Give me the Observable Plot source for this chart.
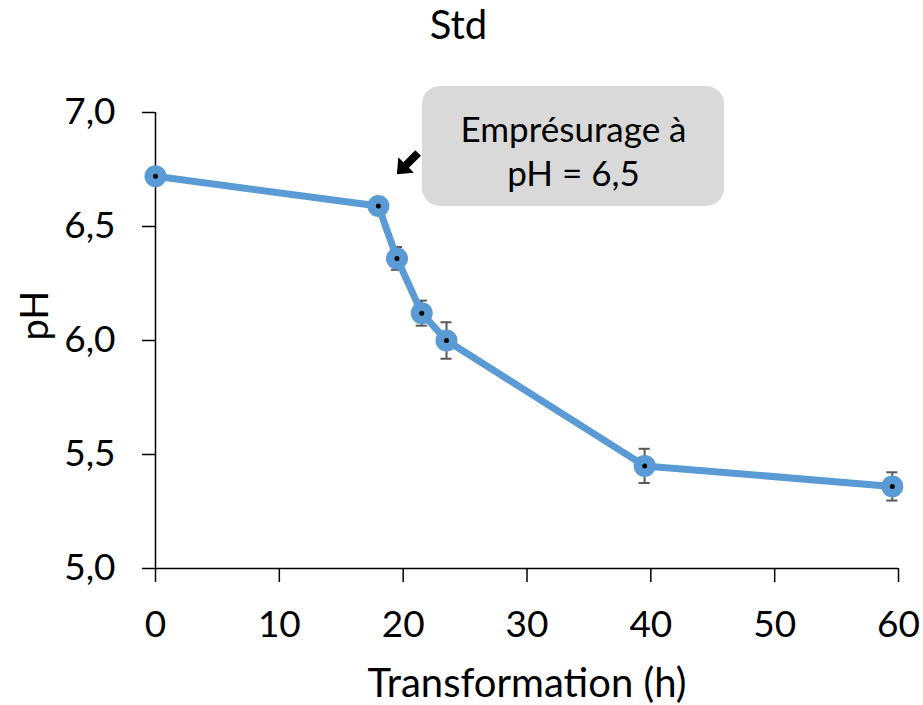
<!DOCTYPE html>
<html>
<head>
<meta charset="utf-8">
<script src="https://cdn.jsdelivr.net/npm/d3@7"></script>
<script src="https://cdn.jsdelivr.net/npm/@observablehq/plot@0.6"></script>
<style>
  html, body { margin: 0; padding: 0; background: white; }
</style>
</head>
<body>
<div id="chart"></div>
<script>
// Data
const hours = [0, 18, 19.5, 21.5, 23.5, 39.5, 59.5];
const pH = [6.72, 6.59, 6.36, 6.12, 6.0, 5.45, 5.36];
const err = [0, 0, 0.05, 0.055, 0.08, 0.075, 0.062];
const xTicks = [0, 10, 20, 30, 40, 50, 60];
const yTicks = [5.0, 5.5, 6.0, 6.5, 7.0];
const titleText = "Std";
const xLabel = "Transformation (h)";
const yLabel = "pH";
const noteLines = ["Empr\u00e9surage \u00e0", "pH = 6,5"];
// annotation anchors (data units)
const noteBox = [{x1: 21.56, x2: 45.95, y1: 6.588, y2: 7.114}];
const noteText = [{x: 33.76, y: 6.836, text: noteLines.join("\n")}];
const noteArrow = [{x: 20.35, y: 6.776}];

const rows = hours.map((h, i) => ({h, v: pH[i], e: err[i]}));
const errRows = rows.filter(d => d.e > 0);
const fmt = v => d3.format(".1f")(v).replace(".", ",");

const blue = "#5b9bd5";
const capHalf = 0.45;

// custom block-arrow symbol pointing down-left
const arrowSymbol = {
  draw(ctx, size) {
    const s = Math.SQRT1_2;
    const u = [-s, s];   // direction (down-left)
    const v = [s, s];    // perpendicular
    const P = (a, b) => [a * u[0] + b * v[0], a * u[1] + b * v[1]];
    const pts = [P(-15, 4), P(2, 4), P(2, 11), P(15, 0), P(2, -11), P(2, -4), P(-15, -4)];
    ctx.moveTo(...pts[0]);
    for (let i = 1; i < pts.length; i++) ctx.lineTo(...pts[i]);
    ctx.closePath();
  }
};

const chart = Plot.plot({
  width: 923,
  height: 705,
  marginTop: 112,
  marginBottom: 137,
  marginLeft: 155,
  marginRight: 25,
  style: {fontFamily: "Lato, 'Noto Sans', sans-serif", fontSize: "37px", color: "black", background: "white"},
  x: {domain: [0, 60]},
  y: {domain: [5, 7]},
  marks: [
    Plot.ruleY([5], {stroke: "black", strokeWidth: 1.5}),
    Plot.ruleX([0], {y1: 5, y2: 7, stroke: "black", strokeWidth: 1.5}),
    Plot.axisX({ticks: xTicks, tickSize: 14, tickPadding: 28, tickFormat: d => String(d), label: null, fontSize: 37, strokeWidth: 1.5}),
    Plot.axisY({ticks: yTicks, tickSize: 13, tickPadding: 27, tickFormat: fmt, label: null, fontSize: 37, strokeWidth: 1.5}),
    // annotation box
    Plot.rect(noteBox, {x1: "x1", x2: "x2", y1: "y1", y2: "y2", fill: "#d9d9d9", rx: 18, ry: 18}),
    Plot.text(noteText, {x: "x", y: "y", text: "text", fontSize: 35, lineHeight: 1.26, fill: "black"}),
    Plot.dot(noteArrow, {x: "x", y: "y", symbol: arrowSymbol, fill: "black", stroke: null, r: 10}),
    // error bars
    Plot.ruleX(errRows, {x: "h", y1: d => d.v - d.e, y2: d => d.v + d.e, stroke: "#595959", strokeWidth: 2}),
    Plot.ruleY(errRows, {y: d => d.v - d.e, x1: d => d.h - capHalf, x2: d => d.h + capHalf, stroke: "#595959", strokeWidth: 2}),
    Plot.ruleY(errRows, {y: d => d.v + d.e, x1: d => d.h - capHalf, x2: d => d.h + capHalf, stroke: "#595959", strokeWidth: 2}),
    // line
    Plot.line(rows, {x: "h", y: "v", stroke: blue, strokeWidth: 7, strokeLinejoin: "round", strokeLinecap: "round"}),
    Plot.dot(rows, {x: "h", y: "v", r: 11, fill: blue, stroke: null}),
    Plot.dot(rows, {x: "h", y: "v", r: 2.5, fill: "black", stroke: null}),
    // titles
    Plot.text([titleText], {frameAnchor: "top-left", dx: 303, dy: -86, lineAnchor: "middle", textAnchor: "middle", fontSize: 40, fill: "black"}),
    Plot.text([xLabel], {frameAnchor: "bottom", dy: 116, lineAnchor: "middle", fontSize: 40, fill: "black"}),
    Plot.text([yLabel], {frameAnchor: "left", dx: -120, rotate: -90, lineAnchor: "middle", fontSize: 38, fill: "black"})
  ]
});
document.getElementById("chart").appendChild(chart);
</script>
</body>
</html>
